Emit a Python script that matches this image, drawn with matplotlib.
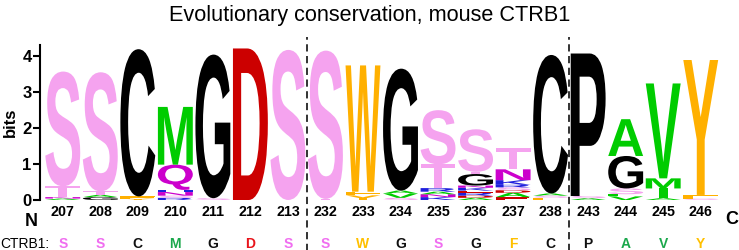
import matplotlib
matplotlib.use('Agg')
import matplotlib.pyplot as plt
from matplotlib.textpath import TextPath
from matplotlib.patches import PathPatch
from matplotlib.font_manager import FontProperties
from matplotlib.transforms import Affine2D

# ---------------- data ----------------
positions = ['207', '208', '209', '210', '211', '212', '213',
             '232', '233', '234', '235', '236', '237', '238',
             '243', '244', '245', '246']

# stacks, bottom -> top
logo_letters = [
    ['A', 'N', 'T', 'S'],
    ['G', 'A', 'T', 'S'],
    ['Y', 'F', 'C'],
    ['R', 'S', 'N', 'H', 'Q', 'M'],
    ['S', 'G'],
    ['D'],
    ['S'],
    ['T', 'S'],
    ['Y', 'F', 'W'],
    ['S', 'V', 'A', 'G'],
    ['K', 'N', 'A', 'R', 'T', 'S'],
    ['A', 'D', 'R', 'E', 'K', 'N', 'G', 'T', 'S'],
    ['E', 'A', 'D', 'S', 'R', 'K', 'N', 'T'],
    ['F', 'S', 'A', 'C'],
    ['A', 'S', 'P'],
    ['V', 'L', 'S', 'G', 'A'],
    ['A', 'I', 'M', 'V'],
    ['S', 'F', 'Y'],
]
logo_heights = [
    [0.04, 0.04, 0.30, 3.18],
    [0.08, 0.06, 0.10, 3.30],
    [0.04, 0.06, 4.08],
    [0.06, 0.06, 0.10, 0.06, 0.70, 1.60],
    [0.05, 3.98],
    [4.20],
    [4.16],
    [0.03, 4.11],
    [0.13, 0.10, 3.50],
    [0.06, 0.12, 0.08, 3.38],
    [0.08, 0.08, 0.07, 0.10, 0.66, 1.50],
    [0.06, 0.06, 0.08, 0.06, 0.08, 0.06, 0.32, 0.06, 1.18],
    [0.08, 0.12, 0.07, 0.08, 0.07, 0.13, 0.30, 0.58],
    [0.06, 0.06, 0.06, 3.84],
    [0.05, 0.06, 3.95],
    [0.10, 0.06, 0.16, 0.90, 1.02],
    [0.05, 0.27, 0.28, 2.63],
    [0.04, 0.10, 3.74],
]

ctrb1_residues = ['S', 'S', 'C', 'M', 'G', 'D', 'S', 'S', 'W', 'G', 'S', 'G',
                  'F', 'C', 'P', 'A', 'V', 'Y']

y_ticks = [0, 1, 2, 3, 4]
divider_after = [7, 14]

# ---------------- styles ----------------
logo_colors = {
    'S': '#F5A3EF', 'T': '#F5A3EF',
    'C': '#000000', 'G': '#000000', 'P': '#000000',
    'A': '#00CC00', 'V': '#00CC00', 'M': '#00CC00', 'I': '#00CC00', 'L': '#00CC00',
    'Q': '#CC00CC', 'N': '#CC00CC',
    'D': '#CC0000', 'E': '#CC0000',
    'K': '#2020DD', 'R': '#2020DD', 'H': '#2020DD',
    'W': '#FFB000', 'Y': '#FFB000', 'F': '#FFB000',
}
res_colors = {
    'S': '#F06EF0', 'T': '#F06EF0',
    'C': '#111111', 'G': '#111111', 'P': '#111111',
    'A': '#1BA84C', 'V': '#1BA84C', 'M': '#1BA84C',
    'D': '#E8141B',
    'W': '#FFC000', 'F': '#FFC000', 'Y': '#FFC000',
}

W, H = 739, 250
fig = plt.figure(figsize=(W / 100, H / 100), dpi=100)
px_per_bit = 36.08
y0_px = 200.0
ytop = 4.3
ax_left, ax_right = 40.0, 719.5
ax_h = ytop * px_per_bit
ax = fig.add_axes([ax_left / W, (H - y0_px) / H, (ax_right - ax_left) / W, ax_h / H])
ax.set_xlim(-4.0 / 37.5, len(positions))
ax.set_ylim(0, ytop)

bold = FontProperties(family=['Liberation Sans', 'DejaVu Sans'], weight='bold')
regular = FontProperties(family=['Liberation Sans', 'DejaVu Sans'])


def draw_letter(letter, x, y, w, h, color):
    tp = TextPath((0, 0), letter, size=1, prop=bold)
    bb = tp.get_extents()
    ww = w
    xx = x
    if letter == 'I':
        ww = w * 0.25
        xx = x + (w - ww) / 2
    t = Affine2D().translate(-bb.x0, -bb.y0).scale(ww / bb.width, h / bb.height).translate(xx, y)
    ax.add_patch(PathPatch(t.transform_path(tp), facecolor=color, edgecolor='none', lw=0))


col_frac = 0.93
for i, (lets, hts) in enumerate(zip(logo_letters, logo_heights)):
    y = 0.0
    for l, h in zip(lets, hts):
        draw_letter(l, i + (1 - col_frac) / 2, y, col_frac, h, logo_colors[l])
        y += h

# axes styling
for s in ['top', 'right', 'bottom']:
    ax.spines[s].set_visible(False)
ax.spines['left'].set_linewidth(1.5)
ax.set_xticks([])
ax.set_yticks(y_ticks)
ax.set_yticklabels([str(v) for v in y_ticks], fontproperties=bold, fontsize=12)
ax.tick_params(axis='y', length=5, width=1.5, pad=1)
ax.set_ylabel('bits', fontproperties=bold, fontsize=12, labelpad=3)


def fx(px):
    return px / W


def fy(py):
    return 1 - py / H


def axy(py):
    return (y0_px - py) / ax_h


# position labels
for i, p in enumerate(positions):
    ax.text(i + 0.5, axy(215.7), p, transform=ax.get_xaxis_transform(),
            ha='center', va='baseline', fontproperties=bold, fontsize=10.3)

# residues row
fig.text(fx(0), fy(248.3), 'CTRB1:', ha='left', va='baseline',
         fontproperties=regular, fontsize=10)
for i, r in enumerate(ctrb1_residues):
    ax.text(i + 0.5, axy(248.3), r, transform=ax.get_xaxis_transform(),
            ha='center', va='baseline', fontproperties=bold, fontsize=10,
            color=res_colors[r])

# N / C terminal labels
fig.text(fx(31), fy(226.5), 'N', ha='center', va='baseline', fontproperties=bold, fontsize=13)
fig.text(fx(732), fy(224.5), 'C', ha='center', va='baseline', fontproperties=bold, fontsize=13)

# dividers
for d in divider_after:
    ax.axvline(d, ymin=axy(252), ymax=axy(37), color='#222222', lw=1.3,
               linestyle=(0, (4, 2.5)), clip_on=False)

fig.text(fx(370), fy(20.5), 'Evolutionary conservation, mouse CTRB1', ha='center',
         va='baseline', fontproperties=regular, fontsize=15.6)

fig.savefig('out.png', dpi=100)
